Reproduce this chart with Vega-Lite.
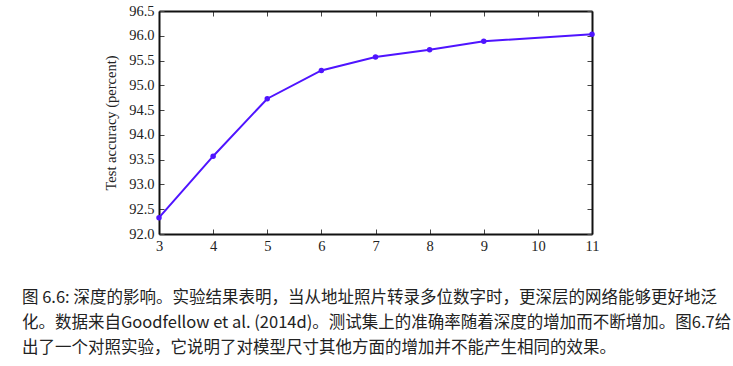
{
  "$schema": "https://vega.github.io/schema/vega-lite/v6.json",
  "autosize": "none",
  "width": 433,
  "height": 223,
  "padding": {"left": 159, "top": 11, "right": 141, "bottom": 132},
  "background": "white",
  "config": {"view": {"stroke": null}},
  "data": {"values": [
    {"depth": 3, "acc": 92.33},
    {"depth": 4, "acc": 93.57},
    {"depth": 5, "acc": 94.73},
    {"depth": 6, "acc": 95.30},
    {"depth": 7, "acc": 95.57},
    {"depth": 8, "acc": 95.72},
    {"depth": 9, "acc": 95.89},
    {"depth": 11, "acc": 96.03}
  ]},
  "title": {
    "text": [
      "图 6.6: 深度的影响。实验结果表明，当从地址照片转录多位数字时，更深层的网络能够更好地泛",
      "化。数据来自Goodfellow et al. (2014d)。测试集上的准确率随着深度的增加而不断增加。图6.7给",
      "出了一个对照实验，它说明了对模型尺寸其他方面的增加并不能产生相同的效果。"
    ],
    "orient": "bottom",
    "anchor": "start",
    "frame": "group",
    "dx": -137,
    "offset": 37,
    "font": "Noto Sans CJK SC",
    "fontSize": 16.5,
    "fontWeight": "normal",
    "lineHeight": 25,
    "color": "#222222"
  },
  "resolve": {"axis": {"x": "independent", "y": "independent"}},
  "layer": [
    {
      "mark": {"type": "line", "color": "#4f14ff", "strokeWidth": 2, "point": {"color": "#4f14ff", "size": 30, "filled": true, "opacity": 1}},
      "encoding": {
        "x": {"field": "depth", "type": "quantitative", "scale": {"domain": [3, 11], "nice": false, "zero": false},
          "axis": {"orient": "bottom", "values": [3,4,5,6,7,8,9,10,11], "title": null, "grid": false, "tickSize": -5, "labelPadding": 10, "tickColor": "#444", "domainColor": "#111", "domainWidth": 2, "labelFont": "Liberation Serif", "labelFontSize": 14.5, "labelColor": "#222", "labelFlush": false}},
        "y": {"field": "acc", "type": "quantitative", "scale": {"domain": [92, 96.5], "nice": false, "zero": false},
          "axis": {"orient": "left", "values": [92,92.5,93,93.5,94,94.5,95,95.5,96,96.5], "format": ".1f", "title": "Test accuracy (percent)", "grid": false, "tickSize": -5, "labelPadding": 10, "tickColor": "#444", "domainColor": "#111", "domainWidth": 2, "labelFont": "Liberation Serif", "labelFontSize": 14.5, "labelColor": "#222", "labelFlush": false, "titleFont": "Liberation Serif", "titleFontSize": 14.5, "titleFontWeight": "normal", "titleColor": "#222", "titlePadding": 10}}
      }
    },
    {
      "mark": {"type": "point", "opacity": 0},
      "encoding": {
        "x": {"field": "depth", "type": "quantitative", "scale": {"domain": [3, 11], "nice": false, "zero": false},
          "axis": {"orient": "top", "values": [3,4,5,6,7,8,9,10,11], "title": null, "labels": false, "grid": false, "tickSize": -5, "tickColor": "#444", "domainColor": "#111", "domainWidth": 2}},
        "y": {"field": "acc", "type": "quantitative", "scale": {"domain": [92, 96.5], "nice": false, "zero": false},
          "axis": {"orient": "right", "values": [92,92.5,93,93.5,94,94.5,95,95.5,96,96.5], "title": null, "labels": false, "grid": false, "tickSize": -5, "tickColor": "#444", "domainColor": "#111", "domainWidth": 2}}
      }
    }
  ]
}
